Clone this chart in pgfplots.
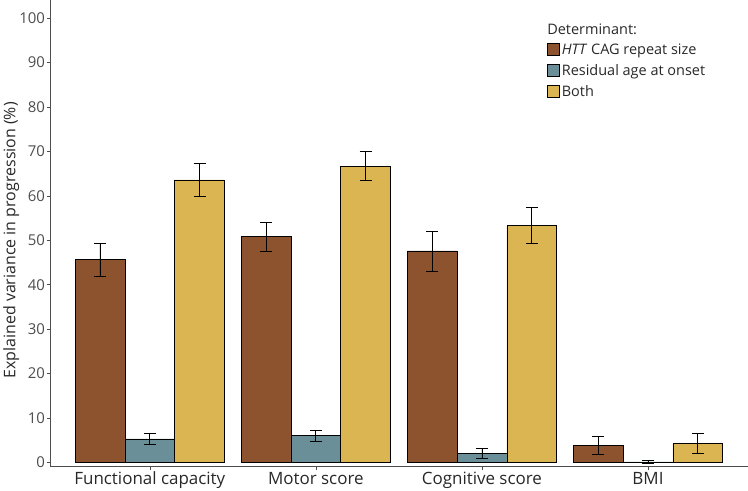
\documentclass[border=0pt]{standalone}
\usepackage{pgfplots}
\pgfplotsset{compat=1.18}
\usepackage{fontspec}
\setmainfont{Open Sans}
\definecolor{cagbrown}{RGB}{141,82,46}
\definecolor{ageteal}{RGB}{106,143,152}
\definecolor{bothgold}{RGB}{218,181,82}
\definecolor{axgray}{RGB}{77,77,77}
\definecolor{txt}{RGB}{40,40,40}
\begin{document}
\begin{tikzpicture}
\begin{axis}[
    width=699pt, height=467pt, scale only axis,
    ybar=0pt, bar width=0.3,
    xmin=0.4, xmax=4.6, ymin=-0.9, ymax=104,
    axis lines*=left,
    axis line style={axgray, line width=0.8pt},
    xtick={1,2,3,4},
    xticklabels={Functional capacity, Motor score, Cognitive score, BMI},
    ytick={0,10,...,100},
    tick align=outside, major tick length=3.5pt,
    tick style={axgray, line width=0.6pt},
    /pgf/number format/assume math mode=true,
    yticklabel style={font=\fontsize{15}{17}\selectfont, text=axgray, inner sep=1.5pt},
    xticklabel style={font=\fontsize{17}{19}\selectfont, text=txt, inner sep=2pt},
    ylabel={Explained variance in progression (\%)},
    ylabel shift=-5pt,
    ylabel style={font=\fontsize{16}{18}\selectfont, text=txt, at={(ticklabel cs:0.485)}},
    legend style={at={(0.7125,0.912)}, anchor=north west, draw=none, fill=none,
        font=\fontsize{14.5}{16}\selectfont, text=txt, row sep=4.5pt, inner sep=0pt,
        cells={anchor=west}},
    legend image code/.code={\draw[#1, draw=black, line width=0.6pt] (0pt,-6pt) rectangle (12pt,6pt);},
    error bars/error bar style={black, line width=0.8pt},
    error bars/error mark options={black, mark size=6pt, line width=0.8pt, rotate=90},
]
\addplot[fill=cagbrown, draw=black, line width=0.6pt,
    error bars/.cd, y dir=both, y explicit]
coordinates {(1,45.6) +- (0,3.8) (2,50.8) +- (0,3.3) (3,47.6) +- (0,4.5) (4,3.8) +- (0,2.1)};
\addlegendentry{\textit{HTT} CAG repeat size}
\addplot[fill=ageteal, draw=black, line width=0.6pt,
    error bars/.cd, y dir=both, y explicit]
coordinates {(1,5.3) +- (0,1.2) (2,6.0) +- (0,1.2) (3,2.1) +- (0,1.1) (4,0.1) +- (0,0.3)};
\addlegendentry{Residual age at onset}
\addplot[fill=bothgold, draw=black, line width=0.6pt,
    error bars/.cd, y dir=both, y explicit]
coordinates {(1,63.6) +- (0,3.7) (2,66.7) +- (0,3.2) (3,53.3) +- (0,4.0) (4,4.3) +- (0,2.2)};
\addlegendentry{Both}
\node[anchor=base west, font=\fontsize{14.5}{16}\selectfont, text=txt, inner sep=0pt]
    at (rel axis cs:0.7125,0.927) {Determinant:};
\end{axis}
\end{tikzpicture}
\end{document}
